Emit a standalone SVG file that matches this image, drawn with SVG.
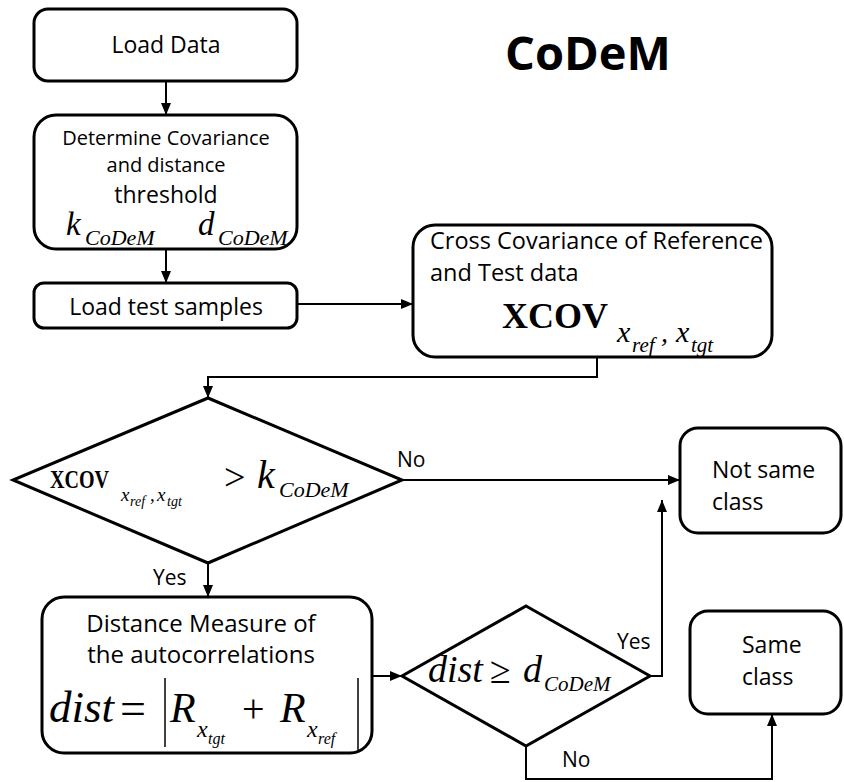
<svg xmlns="http://www.w3.org/2000/svg" width="844" height="782" viewBox="0 0 844 782">
  <style>
    .box { fill: #ffffff; stroke: #000000; stroke-width: 3; }
    .link { fill: none; stroke: #000000; stroke-width: 2; }
    .txt { font-family: "Open Sans", "Liberation Sans", sans-serif; fill: #000000; }
    .lbl { font-family: "Open Sans", "Liberation Sans", sans-serif; font-size: 21px; fill: #000000; }
    .mi { font-family: "Liberation Serif", "DejaVu Serif", serif; font-style: italic; fill: #000000; }
    .mr { font-family: "Liberation Serif", "DejaVu Serif", serif; fill: #000000; }
    .mb { font-family: "Liberation Serif", "DejaVu Serif", serif; font-weight: bold; fill: #000000; }
  </style>
  <defs>
    <marker id="arrow" viewBox="0 0 12 10" refX="12" refY="5" markerWidth="12" markerHeight="10" markerUnits="userSpaceOnUse" orient="auto">
      <path d="M0,0 L12,5 L0,10 z" fill="#000000"/>
    </marker>
  </defs>

  <rect width="844" height="782" fill="#ffffff"/>

  <!-- title -->
  <text class="txt" x="505" y="70" font-size="47" font-weight="bold">CoDeM</text>

  <!-- connectors -->
  <g id="connectors">
    <line class="link" x1="166" y1="81" x2="166" y2="115" marker-end="url(#arrow)"/>
    <line class="link" x1="166" y1="249" x2="166" y2="283" marker-end="url(#arrow)"/>
    <line class="link" x1="297" y1="304" x2="413" y2="304" marker-end="url(#arrow)"/>
    <polyline class="link" points="597,357 597,377 208,377 208,398" marker-end="url(#arrow)"/>
    <line class="link" x1="402" y1="480" x2="680" y2="480" marker-end="url(#arrow)"/>
    <line class="link" x1="208" y1="563" x2="208" y2="597" marker-end="url(#arrow)"/>
    <line class="link" x1="372" y1="676" x2="402" y2="676" marker-end="url(#arrow)"/>
    <polyline class="link" points="650,676 662,676 662,500" marker-end="url(#arrow)"/>
    <polyline class="link" points="526,746 526,779 772,779 772,714" marker-end="url(#arrow)"/>
    <text class="lbl" x="397" y="467">No</text>
    <text class="lbl" x="153" y="585">Yes</text>
    <text class="lbl" x="617" y="649">Yes</text>
    <text class="lbl" x="562" y="767">No</text>
  </g>

  <!-- load data -->
  <g id="load-data">
    <rect class="box" x="34" y="9" width="263" height="72" rx="14"/>
    <text class="txt" x="166" y="53" font-size="23" text-anchor="middle">Load Data</text>
  </g>

  <!-- thresholds -->
  <g id="thresholds">
    <rect class="box" x="34" y="115" width="263" height="134" rx="22"/>
    <text class="txt" x="166" y="145" font-size="20" text-anchor="middle">Determine Covariance</text>
    <text class="txt" x="166" y="172" font-size="20" text-anchor="middle">and distance</text>
    <text class="txt" x="166" y="203" font-size="23" text-anchor="middle">threshold</text>
    <text class="mi" x="66" y="235" font-size="33">k</text>
    <text class="mi" x="85" y="245" font-size="22">CoDeM</text>
    <text class="mi" x="198" y="235" font-size="33">d</text>
    <text class="mi" x="218" y="245" font-size="22">CoDeM</text>
  </g>

  <!-- load test samples -->
  <g id="load-test">
    <rect class="box" x="34" y="283" width="263" height="45" rx="10"/>
    <text class="txt" x="166" y="315" font-size="23" text-anchor="middle">Load test samples</text>
  </g>

  <!-- cross covariance -->
  <g id="cross-cov">
    <rect class="box" x="413" y="225" width="359" height="132" rx="22"/>
    <text class="txt" x="430" y="249" font-size="23.5">Cross Covariance of Reference</text>
    <text class="txt" x="430" y="281" font-size="23.5">and Test data</text>
    <text class="mb" x="502" y="328" font-size="36" textLength="106" lengthAdjust="spacingAndGlyphs">XCOV</text>
    <text class="mi" x="617" y="342" font-size="30">x</text>
    <text class="mi" x="632" y="352" font-size="21">ref</text>
    <text class="mi" x="661" y="342" font-size="28">,</text>
    <text class="mi" x="676" y="342" font-size="30">x</text>
    <text class="mi" x="691" y="352" font-size="21">tgt</text>
  </g>

  <!-- covariance test -->
  <g id="cov-test">
    <polygon class="box" points="208,398 402,480 208,563 13,480"/>
    <text class="mb" x="50" y="488" font-size="25" textLength="59" lengthAdjust="spacingAndGlyphs">XCOV</text>
    <text class="mi" x="121" y="501" font-size="19">x</text>
    <text class="mi" x="130" y="506" font-size="14">ref</text>
    <text class="mi" x="150" y="501" font-size="19">,</text>
    <text class="mi" x="157" y="501" font-size="19">x</text>
    <text class="mi" x="167" y="506" font-size="14">tgt</text>
    <text class="mr" x="224" y="490" font-size="38">&gt;</text>
    <text class="mi" x="257" y="488" font-size="40">k</text>
    <text class="mi" x="279" y="497" font-size="22">CoDeM</text>
  </g>

  <!-- not same class -->
  <g id="not-same">
    <rect class="box" x="680" y="428" width="161" height="105" rx="18"/>
    <text class="txt" x="712" y="478" font-size="23">Not same</text>
    <text class="txt" x="712" y="510" font-size="23">class</text>
  </g>

  <!-- distance measure -->
  <g id="distance">
    <rect class="box" x="42" y="597" width="330" height="156" rx="22"/>
    <text class="txt" x="201" y="632" font-size="24" text-anchor="middle">Distance Measure of</text>
    <text class="txt" x="201" y="663" font-size="24" text-anchor="middle">the autocorrelations</text>
    <text class="mi" x="49" y="722" font-size="45">dist</text>
    <text class="mr" x="120" y="724" font-size="46">=</text>
    <line x1="165" y1="678" x2="165" y2="747" stroke="#000000" stroke-width="1.5"/>
    <text class="mi" x="170" y="722" font-size="42">R</text>
    <text class="mi" x="197" y="737" font-size="24">x</text>
    <text class="mi" x="208" y="744" font-size="16">tgt</text>
    <text class="mr" x="242" y="722" font-size="40">+</text>
    <text class="mi" x="280" y="722" font-size="42">R</text>
    <text class="mi" x="307" y="737" font-size="24">x</text>
    <text class="mi" x="318" y="744" font-size="16">ref</text>
    <line x1="358" y1="678" x2="358" y2="750" stroke="#000000" stroke-width="1.5"/>
  </g>

  <!-- distance test -->
  <g id="dist-test">
    <polygon class="box" points="526,606 650,676 526,746 402,676"/>
    <text class="mi" x="428" y="682" font-size="38">dist</text>
    <text class="mr" x="490" y="683" font-size="38">≥</text>
    <text class="mi" x="523" y="682" font-size="38">d</text>
    <text class="mi" x="544" y="691" font-size="21">CoDeM</text>
  </g>

  <!-- same class -->
  <g id="same">
    <rect class="box" x="690" y="611" width="151" height="103" rx="18"/>
    <text class="txt" x="742" y="653" font-size="23">Same</text>
    <text class="txt" x="742" y="685" font-size="23">class</text>
  </g>
</svg>
